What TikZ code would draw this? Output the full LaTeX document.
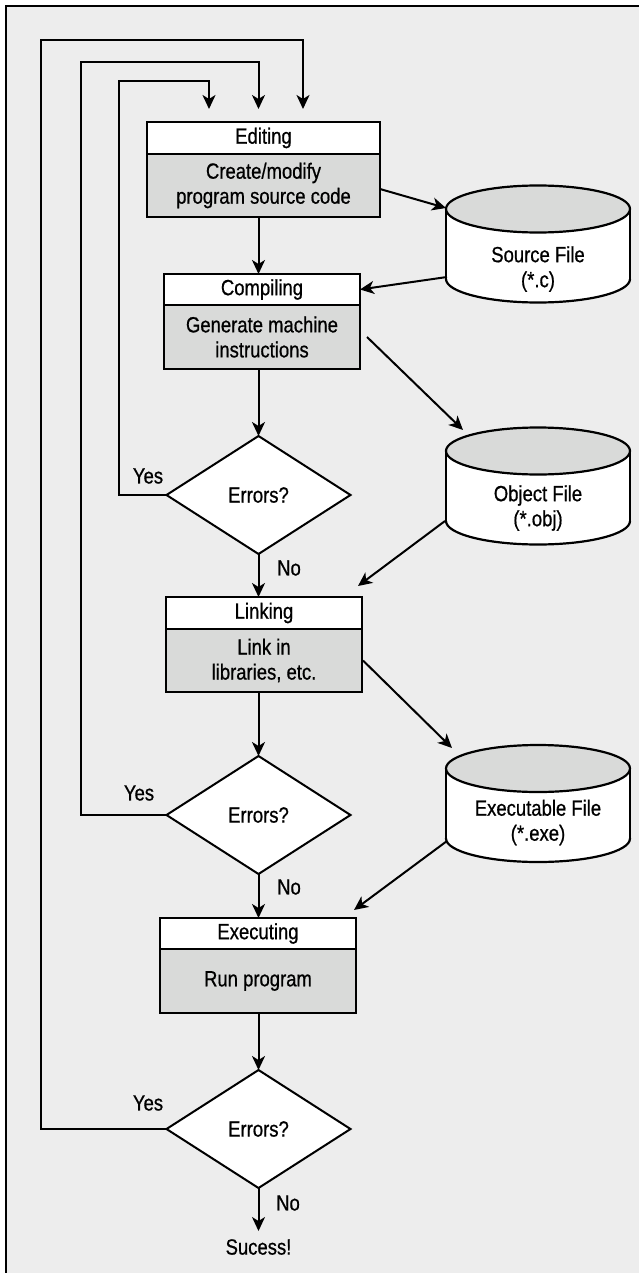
\documentclass[tikz,border=0pt]{standalone}
\usepackage{fontspec}
\setmainfont{Liberation Sans}[FakeStretch=0.84,FakeBold=0.7]
\usetikzlibrary{arrows.meta,shapes.geometric}
\definecolor{bg}{HTML}{EDEDED}
\definecolor{boxgray}{HTML}{D9DAD9}
\begin{document}
\begin{tikzpicture}[x=1pt,y=-1pt,
  font=\fontsize{22}{25}\selectfont,
  hdr/.style={draw, line width=2.6pt, fill=white, minimum width=196pt, minimum height=32pt, inner sep=0pt, outer sep=0pt, align=center},
  bodybox/.style={hdr, fill=boxgray, minimum height=63pt},
  dia/.style={draw, diamond, line width=2pt, fill=white, minimum width=184pt, minimum height=118pt, inner sep=0pt, outer sep=0pt},
  conn/.style={line width=2pt},
  arr/.style={conn, -{Stealth[length=14pt,width=13pt,inset=4pt]}},
  lbl/.style={inner sep=0pt},
  cylline/.style={line width=2.2pt}]
\useasboundingbox (0,0) rectangle (639,1273);
\fill[white] (0,0) rectangle (639,1273);
\fill[bg] (6,6) rectangle (639,1273);
\draw[line width=2.2pt] (6,1273) -- (6,6) -- (639,6);

% cylinders
\foreach \ty in {209,451,768.5}{
  \begin{scope}[shift={(538,\ty)}]
    \fill[white] (-92,0) rectangle (92,70);
    \fill[white] (0,70) ellipse [x radius=92, y radius=23.5];
    \begin{scope}
      \clip (-100,70) rectangle (100,100);
      \draw[cylline] (0,70) ellipse [x radius=92, y radius=23.5];
    \end{scope}
    \draw[cylline] (-92,0) -- (-92,70);
    \draw[cylline] (92,0) -- (92,70);
    \draw[cylline, fill=boxgray] (0,0) ellipse [x radius=92, y radius=23.5];
  \end{scope}
}
\node[lbl, align=center] (src) at (538,269) {Source File\\(*.c)};
\node[lbl, align=center] (obj) at (538,508) {Object File\\(*.obj)};
\node[lbl, align=center] (exe) at (538,822.5) {Executable File\\(*.exe)};

% process boxes
\node[hdr, minimum width=233pt] (edith) at (263.5,138) {Editing};
\node[bodybox, minimum width=233pt] (editb) at (263.5,185.5) {Create/modify\\program source code};
\node[hdr, minimum height=31pt] (comph) at (262,289.5) {Compiling};
\node[bodybox, minimum height=64pt] (compb) at (262,337) {Generate machine\\instructions};
\node[hdr] (linkh) at (264,613) {Linking};
\node[bodybox] (linkb) at (264,660.5) {Link in\\libraries, etc.};
\node[hdr, minimum height=31pt] (exch) at (258,933.5) {Executing};
\node[bodybox, minimum height=64pt] (excb) at (258,981) {Run program};

% decisions
\node[dia] (d1) at (258.5,495) {Errors?};
\node[dia] (d2) at (258.5,815) {Errors?};
\node[dia] (d3) at (258.5,1129) {Errors?};

% labels
\node[lbl] (yes1) at (148,476) {Yes};
\node[lbl] (yes2) at (139,793) {Yes};
\node[lbl] (yes3) at (148,1103) {Yes};
\node[lbl] (no1) at (289,568) {No};
\node[lbl] (no2) at (289,887) {No};
\node[lbl] (no3) at (288,1203) {No};
\node[lbl] (succ) at (258.5,1247) {Sucess!};

% free ends
\coordinate (in1) at (209,109);
\coordinate (in2) at (258.5,109);
\coordinate (in3) at (303,109);
\coordinate (srcIn) at (446,208);
\coordinate (srcOut) at (447,277);
\coordinate (objIn) at (463,430);
\coordinate (objOut) at (445,521);
\coordinate (lnkIn) at (358,586);
\coordinate (exeIn) at (452,748);
\coordinate (exeOut) at (447,841);
\coordinate (excIn) at (354,910);

% main flow
\draw[arr] (editb.south -| d1) -- (comph.north -| d1);
\draw[arr] (compb.south -| d1) -- (d1.north);
\draw[arr] (d1.south) -- (linkh.north -| d1);
\draw[arr] (linkb.south -| d2) -- (d2.north);
\draw[arr] (d2.south) -- (exch.north -| d2);
\draw[arr] (excb.south -| d3) -- (d3.north);
\draw[arr] (d3.south) -- ([yshift=8pt]succ.north);

% loops
\draw[arr] (d1.west) -| (119,81) -| (in1);
\draw[arr] (d2.west) -| (81,62) -| (in2);
\draw[arr] (d3.west) -| (41,40) -| (in3);

% file arrows
\draw[arr] ([yshift=-3.5pt]editb.east) -- (srcIn);
\draw[arr] (srcOut) -- (comph.east);
\draw[arr] ([xshift=7pt]compb.east) -- (objIn);
\draw[arr] (objOut) -- (lnkIn);
\draw[arr] ([xshift=1pt]linkb.east) -- (exeIn);
\draw[arr] (exeOut) -- (excIn);
\end{tikzpicture}
\end{document}
